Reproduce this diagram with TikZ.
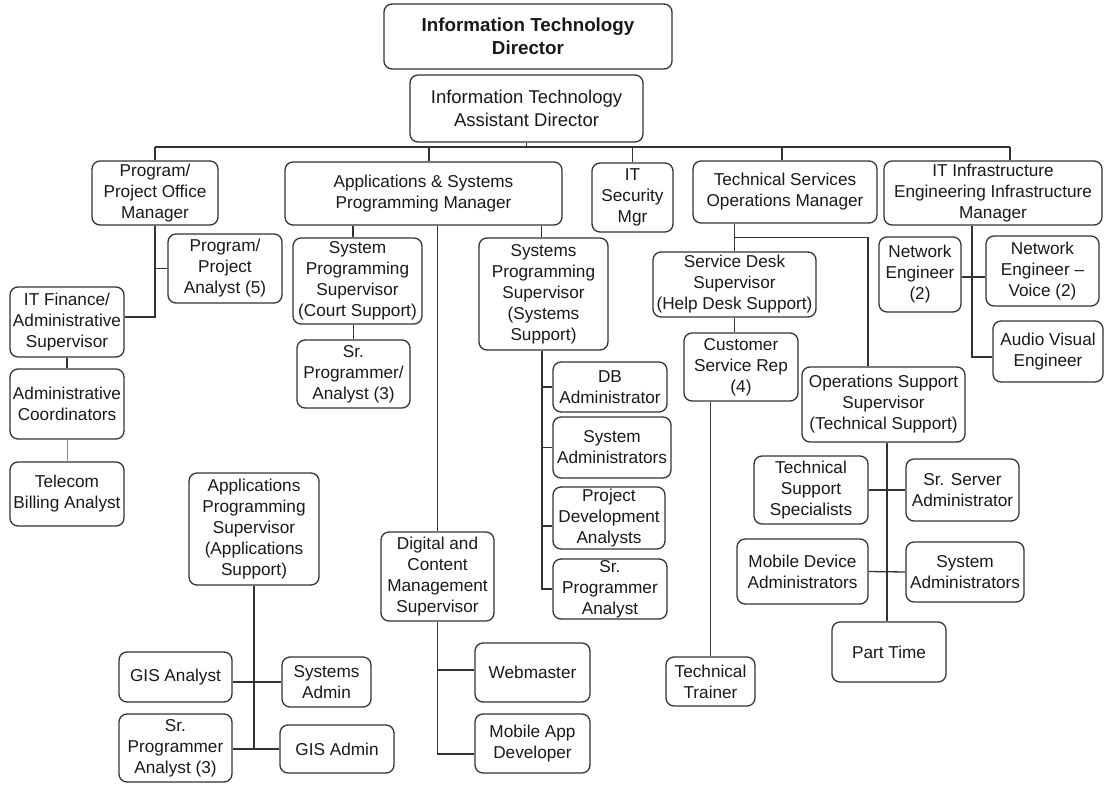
\documentclass[tikz,border=0pt]{standalone}
\usepackage{fontspec}
\setmainfont{Liberation Sans}
\begin{document}
\begin{tikzpicture}[x=1pt,y=-1pt,
  box/.style={draw=black!80, line width=1.3pt, rounded corners=8pt, align=center,
    inner sep=0pt, text=black!90, font=\fontsize{17.2}{21}\selectfont},
  bigbox/.style={box, font=\fontsize{18.5}{23}\selectfont},
  titlebox/.style={box, font=\fontsize{18.8}{23}\selectfont\bfseries},
  link/.style={draw=black!80, line width=1.3pt},
  thinlink/.style={draw=black!45, line width=0.7pt}]
\useasboundingbox (0,0) rectangle (1105,784);

% ---------- top ----------
\node[titlebox, minimum width=288pt, minimum height=65pt] (dir) at (528,36.5) {Information Technology\\Director};
\node[bigbox, minimum width=233pt, minimum height=67pt] (asst) at (526.5,108.5) {Information Technology\\Assistant Director};

% ---------- managers ----------
\node[box, minimum width=126pt, minimum height=64pt] (pom) at (155,193) {Program/\\Project Office\\Manager};
\node[box, minimum width=277pt, minimum height=63pt] (apps) at (423.5,193.5) {Applications \& Systems\\Programming Manager};
\node[box, minimum width=81pt, minimum height=69pt] (sec) at (632.5,197.5) {IT\\Security\\Mgr};
\node[box, minimum width=184pt, minimum height=62pt] (tech) at (785,192) {Technical Services\\Operations Manager};
\node[box, minimum width=218pt, minimum height=64pt] (infra) at (993,193) {IT Infrastructure\\Engineering Infrastructure\\Manager};

% ---------- program office ----------
\node[box, minimum width=114pt, minimum height=69pt] (ppa) at (225,268.5) {Program/\\Project\\Analyst (5)};
\node[box, minimum width=114pt, minimum height=70pt] (fin) at (67,322) {IT Finance/\\Administrative\\Supervisor};
\node[box, minimum width=114pt, minimum height=70pt] (coord) at (67,404) {Administrative\\Coordinators};
\node[box, minimum width=114pt, minimum height=64pt] (tel) at (67,494) {Telecom\\Billing Analyst};

% ---------- applications & systems ----------
\node[box, minimum width=129pt, minimum height=86pt] (court) at (357.5,281) {System\\Programming\\Supervisor\\(Court Support)};
\node[box, minimum width=113pt, minimum height=68pt] (srpa3) at (353.5,374) {Sr.\\Programmer/\\Analyst (3)};
\node[box, minimum width=129pt, minimum height=112pt] (sys) at (543.5,294) {Systems\\Programming\\Supervisor\\(Systems\\Support)};
\node[box, minimum width=114pt, minimum height=50pt] (dba) at (610,387) {DB\\Administrator};
\node[box, minimum width=118pt, minimum height=61pt] (sysadm) at (612,447.5) {System\\Administrators};
\node[box, minimum width=112pt, minimum height=62pt] (pda) at (609,518) {Project\\Development\\Analysts};
\node[box, minimum width=114pt, minimum height=60pt] (spa) at (610,589) {Sr.\\Programmer\\Analyst};
\node[box, minimum width=113pt, minimum height=89pt] (dig) at (437.5,576.5) {Digital and\\Content\\Management\\Supervisor};
\node[box, minimum width=115pt, minimum height=59pt] (web) at (532.5,672.5) {Webmaster};
\node[box, minimum width=115pt, minimum height=59pt] (mad) at (532.5,743.5) {Mobile App\\Developer};
\node[box, minimum width=130pt, minimum height=112pt] (aps) at (254,529) {Applications\\Programming\\Supervisor\\(Applications\\Support)};
\node[box, minimum width=113pt, minimum height=50pt] (gisa) at (175.5,677) {GIS Analyst};
\node[box, minimum width=89pt, minimum height=50pt] (sadm) at (326.5,682) {Systems\\Admin};
\node[box, minimum width=113pt, minimum height=68pt] (spa3) at (175.5,748) {Sr.\\Programmer\\Analyst (3)};
\node[box, minimum width=114pt, minimum height=48pt] (gisad) at (337,749) {GIS Admin};

% ---------- technical services ----------
\node[box, minimum width=163pt, minimum height=65pt] (sdesk) at (734.5,284.5) {Service Desk\\Supervisor\\(Help Desk Support)};
\node[box, minimum width=114pt, minimum height=68pt] (csr) at (741,367) {Customer\\Service Rep\\(4)};
\node[box, minimum width=89pt, minimum height=49pt] (tt) at (710.5,681.5) {Technical\\Trainer};
\node[box, minimum width=163pt, minimum height=75pt] (ops) at (883.5,404.5) {Operations Support\\Supervisor\\(Technical Support)};
\node[box, minimum width=114pt, minimum height=68pt] (tss) at (811,490) {Technical\\Support\\Specialists};
\node[box, minimum width=113pt, minimum height=62pt] (ssa) at (962.5,490) {Sr. Server\\Administrator};
\node[box, minimum width=131pt, minimum height=65pt] (mda) at (802.5,571.5) {Mobile Device\\Administrators};
\node[box, minimum width=118pt, minimum height=60pt] (sadm2) at (965,572) {System\\Administrators};
\node[box, minimum width=114pt, minimum height=60pt] (pt) at (889,652) {Part Time};

% ---------- infrastructure ----------
\node[box, minimum width=82pt, minimum height=75pt] (ne) at (920,274.5) {Network\\Engineer\\(2)};
\node[box, minimum width=113pt, minimum height=70pt] (nev) at (1042.5,271) {Network\\Engineer --\\Voice (2)};
\node[box, minimum width=110pt, minimum height=61pt] (av) at (1048,351.5) {Audio Visual\\Engineer};

% ---------- connectors ----------
\coordinate (busL) at (155,147);
\coordinate (busR) at (1010,147);
\draw[link] (busL) -- (busR);
\draw[link] (asst.south) -- (asst.south |- busL);
\draw[link] (pom.north) -- (pom.north |- busL);
\draw[link] ([xshift=5.5pt]apps.north) -- ([xshift=5.5pt]apps.north |- busL);
\draw[link] (sec.north) -- (sec.north |- busL);
\draw[link] ([xshift=-3pt]tech.north) -- ([xshift=-3pt]tech.north |- busL);
\draw[link] (busR) -- (busR |- infra.north);

% program office
\draw[link] (pom.south) |- ([yshift=5pt]fin.east);
\draw[link] (ppa.west) -- (ppa.west -| pom.south);
\draw[link] (fin.south) -- (coord.north);
\draw[thinlink] (coord.south) -- (tel.north);

% applications & systems
\draw[link] ([xshift=-4.5pt]court.north) -- ([xshift=-4.5pt]court.north |- apps.south);
\draw[link] (srpa3.north) -- (srpa3.north |- court.south);
\draw[link] (dig.north) -- (dig.north |- apps.south);
\draw[link] ([xshift=-2pt]sys.north) -- ([xshift=-2pt]sys.north |- apps.south);
\coordinate (sysdrop) at ([xshift=-1.5pt]sys.south);
\draw[link] (sysdrop) |- (dba.west);
\draw[link] (sysdrop) |- (sysadm.west);
\draw[link] (sysdrop) |- ([yshift=-8pt]pda.west);
\draw[link] (sysdrop) |- (spa.west);
\draw[link] (dig.south) |- ([yshift=-10.5pt]mad.west);
\draw[link] ([yshift=2.5pt]web.west) -- ([yshift=2.5pt]web.west -| dig.south);
\draw[link] (aps.south) -- (aps.south |- spa3.east);
\draw[link] (sadm.west) -- (sadm.west -| gisa.east);
\draw[link] (gisad.west) -- (gisad.west -| spa3.east);

% technical services
\path (tech.south) ++(0,14) coordinate (tjy);
\draw[link] (sdesk.north) -- (sdesk.north |- tech.south);
\draw[link] (sdesk.north |- tjy) -| ([xshift=-15.5pt]ops.north);
\draw[link] (sdesk.south) -- (sdesk.south |- csr.north);
\draw[link] (tt.north) -- (tt.north |- csr.south);
\draw[link] ([xshift=-2pt]pt.north) -- ([xshift=-2pt]pt.north |- ops.south);
\draw[link] (tss.east) -- (ssa.west);
\draw[link] (mda.east) -- (sadm2.west);

% infrastructure
\draw[link] ([xshift=-21pt]infra.south) |- ([yshift=-5.5pt]av.west);
\draw[link] ([yshift=-2.5pt]ne.east) -- ([yshift=-2.5pt]ne.east -| nev.west);
\end{tikzpicture}
\end{document}
